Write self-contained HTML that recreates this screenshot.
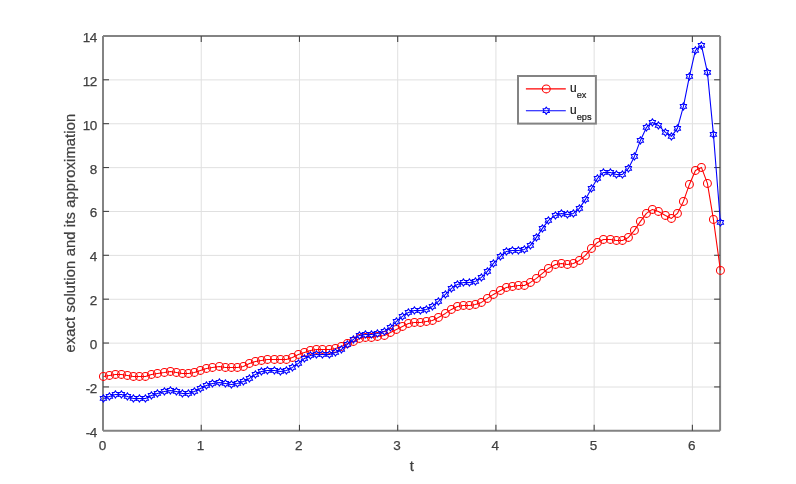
<!DOCTYPE html>
<html><head><meta charset="utf-8"><title>exact solution and its approximation</title>
<style>
html,body{margin:0;padding:0;background:#fff;}
body{width:796px;height:484px;overflow:hidden;}
svg{display:block;}
text{font-family:"Liberation Sans",Arial,Helvetica,sans-serif;fill:#404040;}
.tk{font-size:13.5px;letter-spacing:-0.6px;stroke:#404040;stroke-width:0.25px;}
.lb{font-size:14.67px;stroke:#404040;stroke-width:0.25px;}
.lg{font-size:12px;fill:#1a1a1a;stroke:#1a1a1a;stroke-width:0.2px;}
.sb{font-size:9.2px;}
</style></head><body>
<svg width="796" height="484" viewBox="0 0 796 484">
<rect x="0" y="0" width="796" height="484" fill="#fff"/>
<defs>
<polygon id="h" points="0.00,-3.75 1.08,-1.88 3.25,-1.87 2.17,0.00 3.25,1.87 1.08,1.88 0.00,3.75 -1.08,1.88 -3.25,1.87 -2.17,0.00 -3.25,-1.88 -1.08,-1.87" fill="none" stroke="#0000ff" stroke-width="1.05" stroke-linejoin="round"/>
<circle id="c" r="3.95" fill="none" stroke="#ff0000" stroke-width="1.05"/>
</defs>
<g stroke="#e0e0e0" stroke-width="1.0" fill="none">
<line x1="201.23" y1="35.9" x2="201.23" y2="430.8"/>
<line x1="299.46" y1="35.9" x2="299.46" y2="430.8"/>
<line x1="397.69" y1="35.9" x2="397.69" y2="430.8"/>
<line x1="495.92" y1="35.9" x2="495.92" y2="430.8"/>
<line x1="594.15" y1="35.9" x2="594.15" y2="430.8"/>
<line x1="692.38" y1="35.9" x2="692.38" y2="430.8"/>
<line x1="103.0" y1="387.02" x2="720.1" y2="387.02"/>
<line x1="103.0" y1="343.14" x2="720.1" y2="343.14"/>
<line x1="103.0" y1="299.27" x2="720.1" y2="299.27"/>
<line x1="103.0" y1="255.39" x2="720.1" y2="255.39"/>
<line x1="103.0" y1="211.51" x2="720.1" y2="211.51"/>
<line x1="103.0" y1="167.63" x2="720.1" y2="167.63"/>
<line x1="103.0" y1="123.76" x2="720.1" y2="123.76"/>
<line x1="103.0" y1="79.88" x2="720.1" y2="79.88"/>
</g>
<g stroke="#838383" stroke-width="2.0" fill="none">
<path d="M103.0 35.9H720.1M103.0 430.8H720.1M103.0 35.9V430.8M720.1 35.9V430.8"/>
</g>
<g stroke="#444444" stroke-width="1.1" fill="none">
<line x1="201.23" y1="430.8" x2="201.23" y2="424.8"/>
<line x1="201.23" y1="35.9" x2="201.23" y2="41.9"/>
<line x1="299.46" y1="430.8" x2="299.46" y2="424.8"/>
<line x1="299.46" y1="35.9" x2="299.46" y2="41.9"/>
<line x1="397.69" y1="430.8" x2="397.69" y2="424.8"/>
<line x1="397.69" y1="35.9" x2="397.69" y2="41.9"/>
<line x1="495.92" y1="430.8" x2="495.92" y2="424.8"/>
<line x1="495.92" y1="35.9" x2="495.92" y2="41.9"/>
<line x1="594.15" y1="430.8" x2="594.15" y2="424.8"/>
<line x1="594.15" y1="35.9" x2="594.15" y2="41.9"/>
<line x1="692.38" y1="430.8" x2="692.38" y2="424.8"/>
<line x1="692.38" y1="35.9" x2="692.38" y2="41.9"/>
<line x1="103.0" y1="386.92" x2="109.0" y2="386.92"/>
<line x1="720.1" y1="386.92" x2="714.1" y2="386.92"/>
<line x1="103.0" y1="343.04" x2="109.0" y2="343.04"/>
<line x1="720.1" y1="343.04" x2="714.1" y2="343.04"/>
<line x1="103.0" y1="299.17" x2="109.0" y2="299.17"/>
<line x1="720.1" y1="299.17" x2="714.1" y2="299.17"/>
<line x1="103.0" y1="255.29" x2="109.0" y2="255.29"/>
<line x1="720.1" y1="255.29" x2="714.1" y2="255.29"/>
<line x1="103.0" y1="211.41" x2="109.0" y2="211.41"/>
<line x1="720.1" y1="211.41" x2="714.1" y2="211.41"/>
<line x1="103.0" y1="167.53" x2="109.0" y2="167.53"/>
<line x1="720.1" y1="167.53" x2="714.1" y2="167.53"/>
<line x1="103.0" y1="123.66" x2="109.0" y2="123.66"/>
<line x1="720.1" y1="123.66" x2="714.1" y2="123.66"/>
<line x1="103.0" y1="79.78" x2="109.0" y2="79.78"/>
<line x1="720.1" y1="79.78" x2="714.1" y2="79.78"/>
</g>
<g class="tk">
<text x="102.10" y="450.2" text-anchor="middle">0</text>
<text x="200.33" y="450.2" text-anchor="middle">1</text>
<text x="298.56" y="450.2" text-anchor="middle">2</text>
<text x="396.79" y="450.2" text-anchor="middle">3</text>
<text x="495.02" y="450.2" text-anchor="middle">4</text>
<text x="593.25" y="450.2" text-anchor="middle">5</text>
<text x="691.48" y="450.2" text-anchor="middle">6</text>
<text x="96.6" y="436.80" text-anchor="end">-4</text>
<text x="96.6" y="392.92" text-anchor="end">-2</text>
<text x="96.6" y="349.04" text-anchor="end">0</text>
<text x="96.6" y="305.17" text-anchor="end">2</text>
<text x="96.6" y="261.29" text-anchor="end">4</text>
<text x="96.6" y="217.41" text-anchor="end">6</text>
<text x="96.6" y="173.53" text-anchor="end">8</text>
<text x="96.6" y="129.66" text-anchor="end">10</text>
<text x="96.6" y="85.78" text-anchor="end">12</text>
<text x="96.6" y="41.90" text-anchor="end">14</text>
</g>
<text class="lb" x="411.85" y="471.0" text-anchor="middle">t</text>
<text class="lb" transform="translate(74.6,233.15) rotate(-90)" text-anchor="middle" textLength="238.7" lengthAdjust="spacing">exact solution and its approximation</text>
<polyline points="103.42,376.42 109.42,375.42 115.42,374.42 121.42,374.42 127.42,375.42 133.42,376.42 139.42,376.42 145.42,376.42 151.42,374.42 157.42,373.42 164.42,372.42 170.42,371.42 176.42,372.42 182.42,373.42 188.42,373.42 194.42,372.42 200.42,370.42 206.42,368.42 212.42,367.42 219.42,366.42 225.42,367.42 231.42,367.42 237.42,367.42 243.42,366.42 249.42,363.42 255.42,361.42 261.42,360.42 267.42,359.42 274.42,359.42 280.42,359.42 286.42,359.42 292.42,357.42 298.42,354.42 304.42,352.42 310.42,350.42 316.42,349.42 322.42,349.42 329.42,349.42 335.42,348.42 341.42,346.42 347.42,343.42 353.42,341.42 359.42,338.42 365.42,337.42 371.42,337.42 377.42,336.42 384.42,335.42 390.42,332.42 396.42,329.42 402.42,326.42 408.42,323.42 414.42,322.42 420.42,322.42 426.42,321.42 432.42,320.42 438.42,317.42 445.42,313.42 451.42,309.42 457.42,306.42 463.42,305.42 469.42,305.42 475.42,304.42 481.42,302.42 487.42,298.42 493.42,294.42 500.42,290.42 506.42,287.42 512.42,286.42 518.42,285.42 524.42,285.42 530.42,282.42 536.42,278.42 542.42,273.42 548.42,268.42 555.42,264.42 561.42,263.42 567.42,264.42 573.42,263.42 579.42,260.42 585.42,255.42 591.42,248.42 597.42,242.42 603.42,239.42 610.42,239.42 616.42,240.42 622.42,240.42 628.42,237.42 634.42,230.42 640.42,221.42 646.42,213.42 652.42,209.42 658.42,211.42 665.42,215.42 671.42,218.42 677.42,213.42 683.42,201.42 689.42,184.42 695.42,170.42 701.42,167.42 707.42,183.42 713.42,219.42 720.42,270.42" fill="none" stroke="#ff0000" stroke-width="1.08" stroke-linejoin="round"/>
<g><use href="#c" x="103.42" y="376.42"/><use href="#c" x="109.42" y="375.42"/><use href="#c" x="115.42" y="374.42"/><use href="#c" x="121.42" y="374.42"/><use href="#c" x="127.42" y="375.42"/><use href="#c" x="133.42" y="376.42"/><use href="#c" x="139.42" y="376.42"/><use href="#c" x="145.42" y="376.42"/><use href="#c" x="151.42" y="374.42"/><use href="#c" x="157.42" y="373.42"/><use href="#c" x="164.42" y="372.42"/><use href="#c" x="170.42" y="371.42"/><use href="#c" x="176.42" y="372.42"/><use href="#c" x="182.42" y="373.42"/><use href="#c" x="188.42" y="373.42"/><use href="#c" x="194.42" y="372.42"/><use href="#c" x="200.42" y="370.42"/><use href="#c" x="206.42" y="368.42"/><use href="#c" x="212.42" y="367.42"/><use href="#c" x="219.42" y="366.42"/><use href="#c" x="225.42" y="367.42"/><use href="#c" x="231.42" y="367.42"/><use href="#c" x="237.42" y="367.42"/><use href="#c" x="243.42" y="366.42"/><use href="#c" x="249.42" y="363.42"/><use href="#c" x="255.42" y="361.42"/><use href="#c" x="261.42" y="360.42"/><use href="#c" x="267.42" y="359.42"/><use href="#c" x="274.42" y="359.42"/><use href="#c" x="280.42" y="359.42"/><use href="#c" x="286.42" y="359.42"/><use href="#c" x="292.42" y="357.42"/><use href="#c" x="298.42" y="354.42"/><use href="#c" x="304.42" y="352.42"/><use href="#c" x="310.42" y="350.42"/><use href="#c" x="316.42" y="349.42"/><use href="#c" x="322.42" y="349.42"/><use href="#c" x="329.42" y="349.42"/><use href="#c" x="335.42" y="348.42"/><use href="#c" x="341.42" y="346.42"/><use href="#c" x="347.42" y="343.42"/><use href="#c" x="353.42" y="341.42"/><use href="#c" x="359.42" y="338.42"/><use href="#c" x="365.42" y="337.42"/><use href="#c" x="371.42" y="337.42"/><use href="#c" x="377.42" y="336.42"/><use href="#c" x="384.42" y="335.42"/><use href="#c" x="390.42" y="332.42"/><use href="#c" x="396.42" y="329.42"/><use href="#c" x="402.42" y="326.42"/><use href="#c" x="408.42" y="323.42"/><use href="#c" x="414.42" y="322.42"/><use href="#c" x="420.42" y="322.42"/><use href="#c" x="426.42" y="321.42"/><use href="#c" x="432.42" y="320.42"/><use href="#c" x="438.42" y="317.42"/><use href="#c" x="445.42" y="313.42"/><use href="#c" x="451.42" y="309.42"/><use href="#c" x="457.42" y="306.42"/><use href="#c" x="463.42" y="305.42"/><use href="#c" x="469.42" y="305.42"/><use href="#c" x="475.42" y="304.42"/><use href="#c" x="481.42" y="302.42"/><use href="#c" x="487.42" y="298.42"/><use href="#c" x="493.42" y="294.42"/><use href="#c" x="500.42" y="290.42"/><use href="#c" x="506.42" y="287.42"/><use href="#c" x="512.42" y="286.42"/><use href="#c" x="518.42" y="285.42"/><use href="#c" x="524.42" y="285.42"/><use href="#c" x="530.42" y="282.42"/><use href="#c" x="536.42" y="278.42"/><use href="#c" x="542.42" y="273.42"/><use href="#c" x="548.42" y="268.42"/><use href="#c" x="555.42" y="264.42"/><use href="#c" x="561.42" y="263.42"/><use href="#c" x="567.42" y="264.42"/><use href="#c" x="573.42" y="263.42"/><use href="#c" x="579.42" y="260.42"/><use href="#c" x="585.42" y="255.42"/><use href="#c" x="591.42" y="248.42"/><use href="#c" x="597.42" y="242.42"/><use href="#c" x="603.42" y="239.42"/><use href="#c" x="610.42" y="239.42"/><use href="#c" x="616.42" y="240.42"/><use href="#c" x="622.42" y="240.42"/><use href="#c" x="628.42" y="237.42"/><use href="#c" x="634.42" y="230.42"/><use href="#c" x="640.42" y="221.42"/><use href="#c" x="646.42" y="213.42"/><use href="#c" x="652.42" y="209.42"/><use href="#c" x="658.42" y="211.42"/><use href="#c" x="665.42" y="215.42"/><use href="#c" x="671.42" y="218.42"/><use href="#c" x="677.42" y="213.42"/><use href="#c" x="683.42" y="201.42"/><use href="#c" x="689.42" y="184.42"/><use href="#c" x="695.42" y="170.42"/><use href="#c" x="701.42" y="167.42"/><use href="#c" x="707.42" y="183.42"/><use href="#c" x="713.42" y="219.42"/><use href="#c" x="720.42" y="270.42"/></g>
<polyline points="103.42,398.42 109.42,396.42 115.42,394.42 121.42,394.42 127.42,396.42 133.42,398.42 139.42,398.42 145.42,398.42 151.42,395.42 157.42,393.42 164.42,391.42 170.42,390.42 176.42,391.42 182.42,393.42 188.42,393.42 194.42,391.42 200.42,388.42 206.42,385.42 212.42,383.42 219.42,382.42 225.42,383.42 231.42,384.42 237.42,383.42 243.42,381.42 249.42,378.42 255.42,374.42 261.42,371.42 267.42,370.42 274.42,370.42 280.42,371.42 286.42,370.42 292.42,367.42 298.42,363.42 304.42,358.42 310.42,355.42 316.42,354.42 322.42,354.42 329.42,354.42 335.42,352.42 341.42,349.42 347.42,344.42 353.42,339.42 359.42,335.42 365.42,334.42 371.42,334.42 377.42,333.42 384.42,331.42 390.42,327.42 396.42,321.42 402.42,316.42 408.42,312.42 414.42,310.42 420.42,310.42 426.42,309.42 432.42,306.42 438.42,301.42 445.42,294.42 451.42,288.42 457.42,284.42 463.42,282.42 469.42,282.42 475.42,281.42 481.42,277.42 487.42,271.42 493.42,263.42 500.42,256.42 506.42,251.42 512.42,250.42 518.42,250.42 524.42,249.42 530.42,245.42 536.42,237.42 542.42,228.42 548.42,220.42 555.42,215.42 561.42,213.42 567.42,214.42 573.42,213.42 579.42,208.42 585.42,199.42 591.42,188.42 597.42,178.42 603.42,172.42 610.42,172.42 616.42,174.42 622.42,174.42 628.42,168.42 634.42,156.42 640.42,140.42 646.42,127.42 652.42,122.42 658.42,125.42 665.42,132.42 671.42,136.42 677.42,128.42 683.42,106.42 689.42,76.42 695.42,50.42 701.42,45.42 707.42,72.42 713.42,134.42 720.42,222.42" fill="none" stroke="#0000ff" stroke-width="1.08" stroke-linejoin="round"/>
<g><use href="#h" x="103.42" y="398.42"/><use href="#h" x="109.42" y="396.42"/><use href="#h" x="115.42" y="394.42"/><use href="#h" x="121.42" y="394.42"/><use href="#h" x="127.42" y="396.42"/><use href="#h" x="133.42" y="398.42"/><use href="#h" x="139.42" y="398.42"/><use href="#h" x="145.42" y="398.42"/><use href="#h" x="151.42" y="395.42"/><use href="#h" x="157.42" y="393.42"/><use href="#h" x="164.42" y="391.42"/><use href="#h" x="170.42" y="390.42"/><use href="#h" x="176.42" y="391.42"/><use href="#h" x="182.42" y="393.42"/><use href="#h" x="188.42" y="393.42"/><use href="#h" x="194.42" y="391.42"/><use href="#h" x="200.42" y="388.42"/><use href="#h" x="206.42" y="385.42"/><use href="#h" x="212.42" y="383.42"/><use href="#h" x="219.42" y="382.42"/><use href="#h" x="225.42" y="383.42"/><use href="#h" x="231.42" y="384.42"/><use href="#h" x="237.42" y="383.42"/><use href="#h" x="243.42" y="381.42"/><use href="#h" x="249.42" y="378.42"/><use href="#h" x="255.42" y="374.42"/><use href="#h" x="261.42" y="371.42"/><use href="#h" x="267.42" y="370.42"/><use href="#h" x="274.42" y="370.42"/><use href="#h" x="280.42" y="371.42"/><use href="#h" x="286.42" y="370.42"/><use href="#h" x="292.42" y="367.42"/><use href="#h" x="298.42" y="363.42"/><use href="#h" x="304.42" y="358.42"/><use href="#h" x="310.42" y="355.42"/><use href="#h" x="316.42" y="354.42"/><use href="#h" x="322.42" y="354.42"/><use href="#h" x="329.42" y="354.42"/><use href="#h" x="335.42" y="352.42"/><use href="#h" x="341.42" y="349.42"/><use href="#h" x="347.42" y="344.42"/><use href="#h" x="353.42" y="339.42"/><use href="#h" x="359.42" y="335.42"/><use href="#h" x="365.42" y="334.42"/><use href="#h" x="371.42" y="334.42"/><use href="#h" x="377.42" y="333.42"/><use href="#h" x="384.42" y="331.42"/><use href="#h" x="390.42" y="327.42"/><use href="#h" x="396.42" y="321.42"/><use href="#h" x="402.42" y="316.42"/><use href="#h" x="408.42" y="312.42"/><use href="#h" x="414.42" y="310.42"/><use href="#h" x="420.42" y="310.42"/><use href="#h" x="426.42" y="309.42"/><use href="#h" x="432.42" y="306.42"/><use href="#h" x="438.42" y="301.42"/><use href="#h" x="445.42" y="294.42"/><use href="#h" x="451.42" y="288.42"/><use href="#h" x="457.42" y="284.42"/><use href="#h" x="463.42" y="282.42"/><use href="#h" x="469.42" y="282.42"/><use href="#h" x="475.42" y="281.42"/><use href="#h" x="481.42" y="277.42"/><use href="#h" x="487.42" y="271.42"/><use href="#h" x="493.42" y="263.42"/><use href="#h" x="500.42" y="256.42"/><use href="#h" x="506.42" y="251.42"/><use href="#h" x="512.42" y="250.42"/><use href="#h" x="518.42" y="250.42"/><use href="#h" x="524.42" y="249.42"/><use href="#h" x="530.42" y="245.42"/><use href="#h" x="536.42" y="237.42"/><use href="#h" x="542.42" y="228.42"/><use href="#h" x="548.42" y="220.42"/><use href="#h" x="555.42" y="215.42"/><use href="#h" x="561.42" y="213.42"/><use href="#h" x="567.42" y="214.42"/><use href="#h" x="573.42" y="213.42"/><use href="#h" x="579.42" y="208.42"/><use href="#h" x="585.42" y="199.42"/><use href="#h" x="591.42" y="188.42"/><use href="#h" x="597.42" y="178.42"/><use href="#h" x="603.42" y="172.42"/><use href="#h" x="610.42" y="172.42"/><use href="#h" x="616.42" y="174.42"/><use href="#h" x="622.42" y="174.42"/><use href="#h" x="628.42" y="168.42"/><use href="#h" x="634.42" y="156.42"/><use href="#h" x="640.42" y="140.42"/><use href="#h" x="646.42" y="127.42"/><use href="#h" x="652.42" y="122.42"/><use href="#h" x="658.42" y="125.42"/><use href="#h" x="665.42" y="132.42"/><use href="#h" x="671.42" y="136.42"/><use href="#h" x="677.42" y="128.42"/><use href="#h" x="683.42" y="106.42"/><use href="#h" x="689.42" y="76.42"/><use href="#h" x="695.42" y="50.42"/><use href="#h" x="701.42" y="45.42"/><use href="#h" x="707.42" y="72.42"/><use href="#h" x="713.42" y="134.42"/><use href="#h" x="720.42" y="222.42"/></g>
<rect x="518.0" y="76.0" width="77.90" height="47.60" fill="#fff" stroke="#838383" stroke-width="2.0"/>
<line x1="525.9" y1="88.9" x2="565.8" y2="88.9" stroke="#ff0000" stroke-width="1.08"/>
<use href="#c" x="546.25" y="88.9"/>
<line x1="525.9" y1="110.7" x2="565.8" y2="110.7" stroke="#0000ff" stroke-width="1.08"/>
<use href="#h" x="546.25" y="110.7"/>
<text class="lg" x="570.0" y="92.2">u<tspan class="sb" dy="6.2">ex</tspan></text>
<text class="lg" x="570.0" y="113.8">u<tspan class="sb" dy="6.2">eps</tspan></text>
</svg></body></html>
